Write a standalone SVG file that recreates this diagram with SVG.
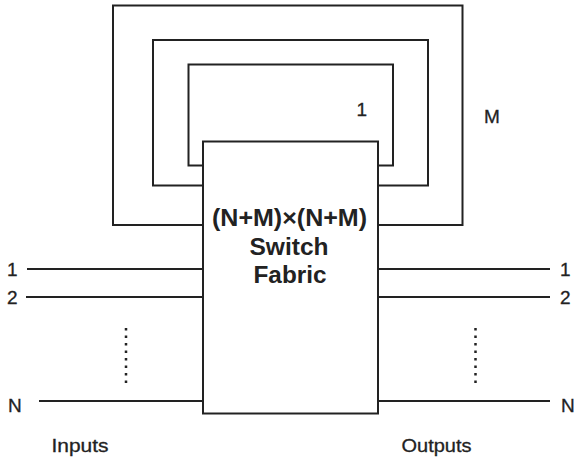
<svg xmlns="http://www.w3.org/2000/svg" width="575" height="461" viewBox="0 0 575 461">
<style>
.ln{stroke:#222;stroke-width:2;fill:none}
.dot{stroke:#222;stroke-width:2.5;stroke-dasharray:2.5 5;fill:none}
.lbl{font-family:"Liberation Sans",Arial,sans-serif;font-size:19px;fill:#222;stroke:#222;stroke-width:0.3}
.bx{font-family:"Liberation Sans",Arial,sans-serif;font-size:23px;font-weight:bold;fill:#222;text-anchor:middle}
</style>
<rect width="575" height="461" fill="#fff"/>
<g id="connectors">
<path class="ln" d="M203,225 H113 V5.5 H462.5 V225 H378"/>
<path class="ln" d="M203,185.5 H153 V40 H428 V185.5 H378"/>
<path class="ln" d="M203,165.5 H188.5 V64.5 H393 V165.5 H378"/>
<line class="ln" x1="27" y1="269" x2="203" y2="269"/>
<line class="ln" x1="26" y1="297" x2="203" y2="297"/>
<line class="ln" x1="39" y1="401" x2="203" y2="401"/>
<line class="ln" x1="378" y1="269" x2="550" y2="269"/>
<line class="ln" x1="378" y1="297" x2="550" y2="297"/>
<line class="ln" x1="378" y1="401" x2="550" y2="401"/>
<line class="dot" x1="126" y1="328" x2="126" y2="384"/>
<line class="dot" x1="475.5" y1="328" x2="475.5" y2="384"/>
</g>
<g id="fabric">
<rect class="ln" x="203" y="141.5" width="175" height="272"/>
<text class="bx" x="289.5" y="226" textLength="155" lengthAdjust="spacingAndGlyphs">(N+M)×(N+M)</text>
<text class="bx" x="289" y="254.5" textLength="79" lengthAdjust="spacingAndGlyphs">Switch</text>
<text class="bx" x="290" y="282.5" textLength="73" lengthAdjust="spacingAndGlyphs">Fabric</text>
</g>
<g id="labels">
<text class="lbl" x="356.5" y="116">1</text>
<text class="lbl" x="484" y="122.5">M</text>
<text class="lbl" x="7" y="275.5">1</text>
<text class="lbl" x="7" y="303.5">2</text>
<text class="lbl" x="8" y="411.5">N</text>
<text class="lbl" x="560" y="275.5">1</text>
<text class="lbl" x="560" y="303.5">2</text>
<text class="lbl" x="561" y="411.5">N</text>
<text class="lbl" x="51.5" y="452" textLength="57" lengthAdjust="spacingAndGlyphs">Inputs</text>
<text class="lbl" x="401.5" y="452" textLength="70" lengthAdjust="spacingAndGlyphs">Outputs</text>
</g>
</svg>
